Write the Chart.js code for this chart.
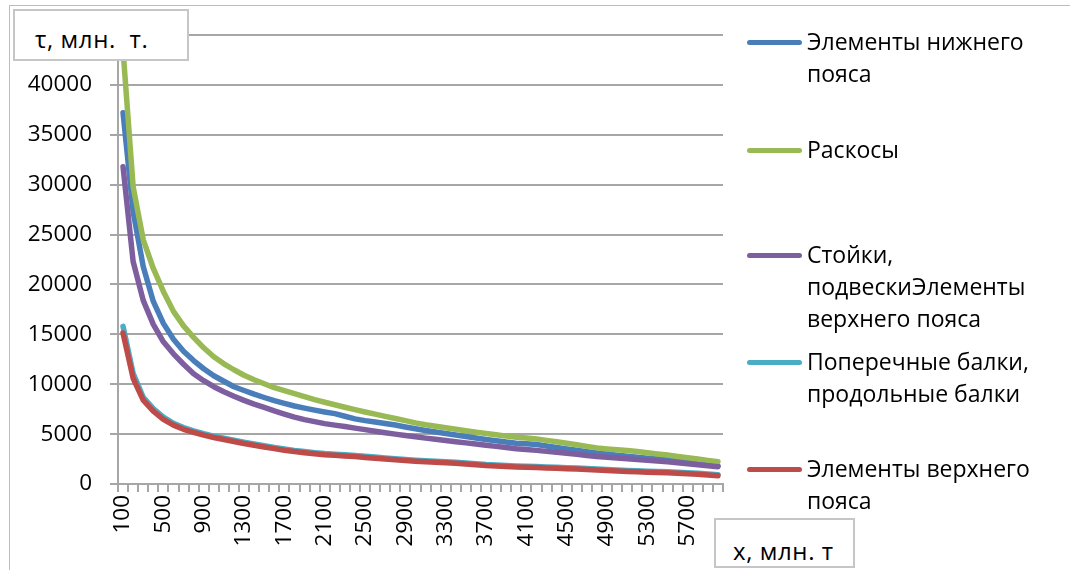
<!DOCTYPE html>
<html>
<head>
<meta charset="utf-8">
<script src="https://cdn.jsdelivr.net/npm/chart.js@4.4.0/dist/chart.umd.min.js"></script>
<style>
html,body{margin:0;padding:0;background:#fff;}
#wrap{position:relative;width:1070px;height:570px;overflow:hidden;font-family:'Open Sans',sans-serif;color:#000;}
#frame{position:absolute;left:9px;top:5px;width:1200px;height:700px;border:1.5px solid #bdbdbd;box-sizing:border-box;}
#c{position:absolute;left:0;top:0;}
.tbox{position:absolute;background:#fff;border:2px solid #c6c6c6;box-sizing:border-box;font-size:24px;white-space:pre;line-height:30px;letter-spacing:0.6px;}
#ytitle{left:13px;top:9px;width:176px;height:52px;padding:13px 0 0 20px;}
#xtitle{left:714px;top:518px;width:141px;height:50px;padding:16px 0 0 17px;}
.sw{position:absolute;left:747px;width:55px;height:5px;border-radius:3px;}
.lt{position:absolute;left:807px;width:245px;font-size:23px;line-height:32px;}
</style>
</head>
<body>
<div id="wrap">
  <div id="frame"></div>
  <canvas id="c" width="1070" height="570"></canvas>
  <div class="tbox" id="ytitle">τ, млн.  т.</div>
  <div class="tbox" id="xtitle">x, млн. т</div>
  <div id="legend"></div>
</div>
<script>
const categories = [100,200,300,400,500,600,700,800,900,1000,1100,1200,1300,1400,1500,1600,1700,1800,1900,2000,2100,2200,2300,2400,2500,2600,2700,2800,2900,3000,3100,3200,3300,3400,3500,3600,3700,3800,3900,4000,4100,4200,4300,4400,4500,4600,4700,4800,4900,5000,5100,5200,5300,5400,5500,5600,5700,5800,5900,6000];

const nizhniyPoyas = [37200,27300,21800,18300,16100,14500,13300,12370,11550,10850,10300,9750,9370,9000,8670,8350,8080,7820,7600,7400,7220,7050,6790,6530,6350,6210,6070,5905,5720,5540,5365,5215,5065,4915,4765,4615,4460,4340,4200,4095,4040,3950,3800,3655,3505,3375,3245,3110,3000,2895,2790,2690,2590,2495,2397,2275,2150,2030,1915,1800];
const raskosy = [43500,29800,24500,21600,19300,17300,15850,14700,13650,12750,12050,11450,10900,10450,10050,9650,9350,9050,8750,8450,8190,7940,7690,7450,7220,7000,6780,6560,6350,6130,5935,5785,5635,5485,5345,5200,5060,4940,4800,4690,4620,4520,4375,4225,4080,3925,3770,3620,3515,3430,3350,3250,3135,3015,2900,2765,2630,2500,2370,2235];
const stoyki = [31800,22300,18400,16000,14250,13050,12000,11040,10350,9750,9250,8800,8380,8000,7670,7320,7000,6700,6450,6250,6050,5900,5765,5600,5447,5295,5143,5000,4867,4733,4600,4480,4360,4245,4120,4000,3880,3770,3650,3525,3450,3370,3270,3175,3075,2970,2867,2763,2683,2612,2542,2467,2387,2308,2228,2126,2025,1924,1824,1723];
const balki = [15800,11100,8700,7550,6700,6080,5650,5330,5040,4790,4580,4380,4180,4010,3830,3660,3500,3360,3250,3145,3050,2985,2920,2855,2775,2695,2615,2540,2465,2390,2320,2270,2222,2175,2105,2032,1960,1912,1860,1814,1788,1756,1715,1674,1632,1592,1552,1513,1465,1413,1361,1318,1288,1259,1229,1180,1131,1082,1005,925];
const verkhniyPoyas = [15130,10600,8400,7300,6480,5900,5480,5180,4900,4660,4460,4260,4060,3890,3715,3545,3385,3250,3140,3035,2940,2875,2810,2745,2666,2587,2508,2432,2360,2286,2219,2170,2122,2075,2005,1932,1860,1812,1760,1714,1688,1656,1615,1574,1532,1492,1452,1413,1365,1313,1261,1218,1188,1159,1129,1080,1031,982,911,832];

const seriesNames = ['Элементы нижнего пояса','Раскосы','Стойки, подвескиЭлементы верхнего пояса','Поперечные балки, продольные балки','Элементы верхнего пояса'];
const seriesData = [nizhniyPoyas, raskosy, stoyki, balki, verkhniyPoyas];
const seriesColors = ['#4a7ebb','#98b954','#7d5fa0','#4bacc6','#be4b48'];
const yTicks = [0,5000,10000,15000,20000,25000,30000,35000,40000];
const legendY = [42,150,255,362,469];

const lg = document.getElementById('legend');
seriesNames.forEach((n,i)=>{
  const s=document.createElement('div'); s.className='sw'; s.style.top=(legendY[i]-2.5)+'px'; s.style.background=seriesColors[i]; lg.appendChild(s);
  const t=document.createElement('div'); t.className='lt'; t.style.top=(legendY[i]-17)+'px'; t.textContent=n; lg.appendChild(t);
});

const gridColor = '#a6a6a6';
new Chart(document.getElementById('c'), {
  type: 'line',
  data: {
    labels: categories,
    datasets: seriesData.map((d,i)=>({
      label: seriesNames[i], data: d, borderColor: seriesColors[i], backgroundColor: seriesColors[i],
      borderWidth: 5.5, pointRadius: 0, tension: 0, fill: false,
      borderJoinStyle: 'round', borderCapStyle: 'round', order: 5 - i
    }))
  },
  options: {
    responsive: false, animation: false,
    layout: { padding: { left: 0, right: 347, top: 35, bottom: 0 } },
    plugins: { legend: { display: false }, tooltip: { enabled: false } },
    scales: {
      x: {
        type: 'category', offset: true,
        grid: { drawOnChartArea: false, drawTicks: true, tickLength: 8, offset: true, color: gridColor, lineWidth: 2 },
        border: { display: true, color: gridColor, width: 2 },
        ticks: { autoSkip: false, maxRotation: 90, minRotation: 90, padding: 3, color: '#000',
          font: { family: 'Open Sans', size: 22.5 },
          callback: function(v, idx){ return idx % 4 === 0 ? String(categories[idx]) : ''; } },
        afterFit: s => { s.height = 86; }
      },
      y: {
        min: 0, max: 45000,
        afterBuildTicks: s => { s.ticks = yTicks.concat([45000]).map(v=>({value:v})); },
        grid: { color: gridColor, lineWidth: 2, tickLength: 8, drawTicks: true },
        border: { display: true, color: gridColor, width: 2 },
        ticks: { padding: 18, color: '#000', font: { family: 'Open Sans', size: 22.5 },
          callback: v => yTicks.includes(v) ? String(v) : '' },
        afterFit: s => { s.width = 118; }
      }
    }
  }
});
</script>
</body>
</html>
